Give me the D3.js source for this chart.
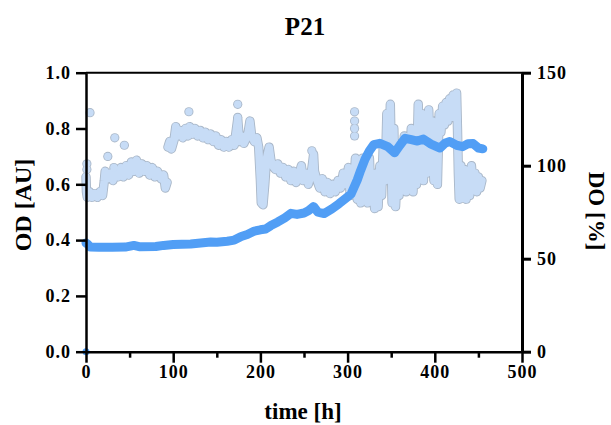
<!DOCTYPE html>
<html>
<head>
<meta charset="utf-8">
<script src="https://cdn.jsdelivr.net/npm/d3@7"></script>
<style>
	body { margin: 0; background: #fff; }
	text { font-family: "Liberation Serif", "Times New Roman", serif; font-weight: bold; }
</style>
</head>
<body>
<div id="chart"></div>
<script>
var title = "P21";
var xTicks = [0, 100, 200, 300, 400, 500];
var xMinorTicks = [50, 150, 250, 350, 450];
var odTicks = [0, 0.2, 0.4, 0.6, 0.8, 1.0];
var doTicks = [0, 50, 100, 150];

// OD [AU] vs time [h]
var odStart = [[0, 0]];
var odPoints = [[0,0.39],[2,0.385],[5,0.375],[15,0.374],[30,0.374],[45,0.375],[55,0.381],[62,0.376],[80,0.377],[89,0.381],
	[100,0.384],[120,0.386],[143,0.393],[150,0.392],[162,0.396],[170,0.40],[178,0.413],[185,0.42],[193,0.432],[200,0.437],
	[206,0.44],[212,0.452],[220,0.465],[228,0.48],[235,0.496],[242,0.492],[250,0.497],[255,0.505],[261,0.52],[266,0.50],
	[273,0.495],[282,0.512],[290,0.53],[298,0.55],[304,0.565],[311,0.615],[315,0.65],[320,0.69],[325,0.72],[330,0.742],
	[337,0.747],[346,0.735],[354,0.713],[360,0.74],[366,0.765],[373,0.76],[380,0.755],[387,0.762],[395,0.745],[406,0.73],
	[412,0.748],[417,0.753],[425,0.74],[432,0.735],[438,0.745],[444,0.746],[450,0.73],[455,0.727]];

// DO [%] vs time [h], null = gap in the record
var doPoints = [[0,94],[0.5,86],[1.5,83],[4,86],[7,83],[10,85],[13,83],[16,86],[19,84],[21,92],[22,97],[25,93],[28,96],
	[31,92],[34,97],[37,94],[40,99],[43,94],[46,100],[49,95],[52,102],[55,97],[58,103],[61,96],[64,101],[67,97],[70,100],
	[73,95],[76,99],[79,94],[82,97],[86,93],[89,95],[91,88],[93,91],[93,null],
	[94,110],[96,113],[98,109],[101,114],[103,121],[105,116],[108,119],[111,115],[114,120],[117,116],[119,121],[122,117],
	[125,120],[128,116],[131,119],[134,115],[137,118],[140,114],[143,117],[146,113],[149,116],[152,111],[155,114],[158,110],
	[161,113],[164,110],[167,114],[170,111],[172,118],[174,125],[176,113],[178,116],[181,112],[184,115],[186,118],[188,124],
	[190,116],[193,113],[196,115],[198,110],[200,92],[201,80],[203,79],[205,90],[207,104],[210,110],[212,103],[214,100],
	[217,98],[220,101],[223,96],[226,99],[229,94],[232,98],[235,92],[238,97],[241,91],[244,95],[247,100],[249,92],[252,96],
	[255,90],[258,95],[260,102],[261,106],[262,97],[265,92],[268,88],[271,93],[274,86],[277,91],[280,85],[283,90],[286,86],
	[289,92],[292,88],[295,96],[298,90],[301,99],[303,84],[305,96],[307,88],[309,104],[311,82],[313,100],[315,80],[317,104],
	[319,84],[321,98],[323,80],[325,104],[327,82],[329,95],[331,77],[333,96],[335,78],[337,100],[339,84],[341,112],[343,92],
	[345,128],[347,95],[349,133],[351,80],[353,120],[355,78],[357,98],[359,84],[361,112],[363,88],[365,116],[367,86],
	[369,108],[371,90],[373,120],[375,86],[377,112],[379,90],[381,133],[383,96],[385,128],[387,92],[389,120],[391,96],
	[393,130],[395,102],[397,124],[399,92],[401,110],[403,90],[405,128],[407,118],[409,132],[411,122],[413,134],[415,124],
	[417,136],[419,126],[421,138],[423,128],[425,139],[426,120],[427,96],[428,82],[430,100],[432,84],[434,98],[436,82],
	[438,96],[440,84],[442,100],[444,88],[446,96],[448,86],[450,94],[452,88],[454,92]];
var doSingles = [[4.6,128.5],[1,101],[1,98],[25,105],[32,99],[33,115],[44,111],[118,129],[174,133],[174,126],
	[259,108],[308,129],[308,124],[308,120],[308,116]];

var odColor = "#519ef5";
var doFill = "#c7dcf6";
var doEdge = "#a9b7c8";

var width = 611, height = 425;

var x = d3.scaleLinear().domain([0, 500]).range([86, 522]);
var yOd = d3.scaleLinear().domain([0, 1]).range([351.7, 72.7]);
var yDo = d3.scaleLinear().domain([0, 150]).range([351.7, 72.7]);

var svg = d3.select("#chart").append("svg")
	.attr("width", width)
	.attr("height", height);

// top frame line
svg.append("line")
	.attr("x1", x(0)).attr("x2", x(500))
	.attr("y1", yOd(1)).attr("y2", yOd(1))
	.attr("stroke", "#000")
	.attr("stroke-width", 2);

// DO series: outline first, then fill
var doLine = d3.line()
	.defined(function(d) { return d[1] != null; })
	.x(function(d) { return x(d[0]); })
	.y(function(d) { return yDo(d[1]); });

svg.selectAll(".do_edge")
	.data(doSingles)
	.enter()
		.append("circle")
		.attr("class", "do_edge")
		.attr("cx", function(d) { return x(d[0]); })
		.attr("cy", function(d) { return yDo(d[1]); })
		.attr("r", 4.6)
		.attr("fill", doEdge);
svg.append("path")
	.attr("d", doLine(doPoints))
	.attr("fill", "none")
	.attr("stroke", doEdge)
	.attr("stroke-width", 9.4)
	.attr("stroke-linejoin", "round")
	.attr("stroke-linecap", "round");
svg.append("path")
	.attr("d", doLine(doPoints))
	.attr("fill", "none")
	.attr("stroke", doFill)
	.attr("stroke-width", 7.6)
	.attr("stroke-linejoin", "round")
	.attr("stroke-linecap", "round");
svg.selectAll(".do_dot")
	.data(doSingles)
	.enter()
		.append("circle")
		.attr("class", "do_dot")
		.attr("cx", function(d) { return x(d[0]); })
		.attr("cy", function(d) { return yDo(d[1]); })
		.attr("r", 3.7)
		.attr("fill", doFill);

// OD series
var odLine = d3.line()
	.x(function(d) { return x(d[0]); })
	.y(function(d) { return yOd(d[1]); });
svg.append("path")
	.attr("d", odLine(odPoints))
	.attr("fill", "none")
	.attr("stroke", odColor)
	.attr("stroke-width", 9)
	.attr("stroke-linejoin", "round")
	.attr("stroke-linecap", "round");
svg.selectAll(".od_dot")
	.data(odStart)
	.enter()
		.append("circle")
		.attr("class", "od_dot")
		.attr("cx", function(d) { return x(d[0]); })
		.attr("cy", function(d) { return yOd(d[1]); })
		.attr("r", 3.5)
		.attr("fill", odColor);

// axes
function styleAxis(g, w) {
	g.select(".domain").attr("stroke-width", w);
	g.selectAll(".tick line").attr("stroke-width", w);
	g.selectAll(".tick text")
		.attr("font-size", 18)
		.attr("letter-spacing", 1)
		.attr("fill", "#000");
}

var gx = svg.append("g")
	.attr("transform", "translate(0," + yOd(0) + ")")
	.call(d3.axisBottom(x).tickValues(xTicks).tickSize(11).tickSizeOuter(0).tickPadding(3));
styleAxis(gx, 2.5);
var gxm = svg.append("g")
	.attr("transform", "translate(0," + yOd(0) + ")")
	.call(d3.axisBottom(x).tickValues(xMinorTicks).tickSize(6).tickSizeOuter(0).tickFormat(""));
styleAxis(gxm, 2.5);
gxm.select(".domain").remove();

var gl = svg.append("g")
	.attr("transform", "translate(" + x(0) + ",0)")
	.call(d3.axisLeft(yOd).tickValues(odTicks).tickSize(10).tickSizeOuter(0).tickPadding(5).tickFormat(d3.format(".1f")));
styleAxis(gl, 2.5);

var gr = svg.append("g")
	.attr("transform", "translate(" + x(500) + ",0)")
	.call(d3.axisRight(yDo).tickValues(doTicks).tickSize(9).tickSizeOuter(0).tickPadding(6));
styleAxis(gr, 3);

// titles
svg.append("text")
	.attr("x", 305).attr("y", 35)
	.attr("text-anchor", "middle")
	.attr("font-size", 25)
	.text(title);
svg.append("text")
	.attr("x", 303).attr("y", 419)
	.attr("text-anchor", "middle")
	.attr("font-size", 23)
	.text("time [h]");
svg.append("text")
	.attr("transform", "translate(31,205) rotate(-90)")
	.attr("text-anchor", "middle")
	.attr("font-size", 24)
	.text("OD [AU]");
svg.append("text")
	.attr("transform", "translate(589,211) rotate(90)")
	.attr("text-anchor", "middle")
	.attr("font-size", 23)
	.text("DO [%]");
</script>
</body>
</html>
